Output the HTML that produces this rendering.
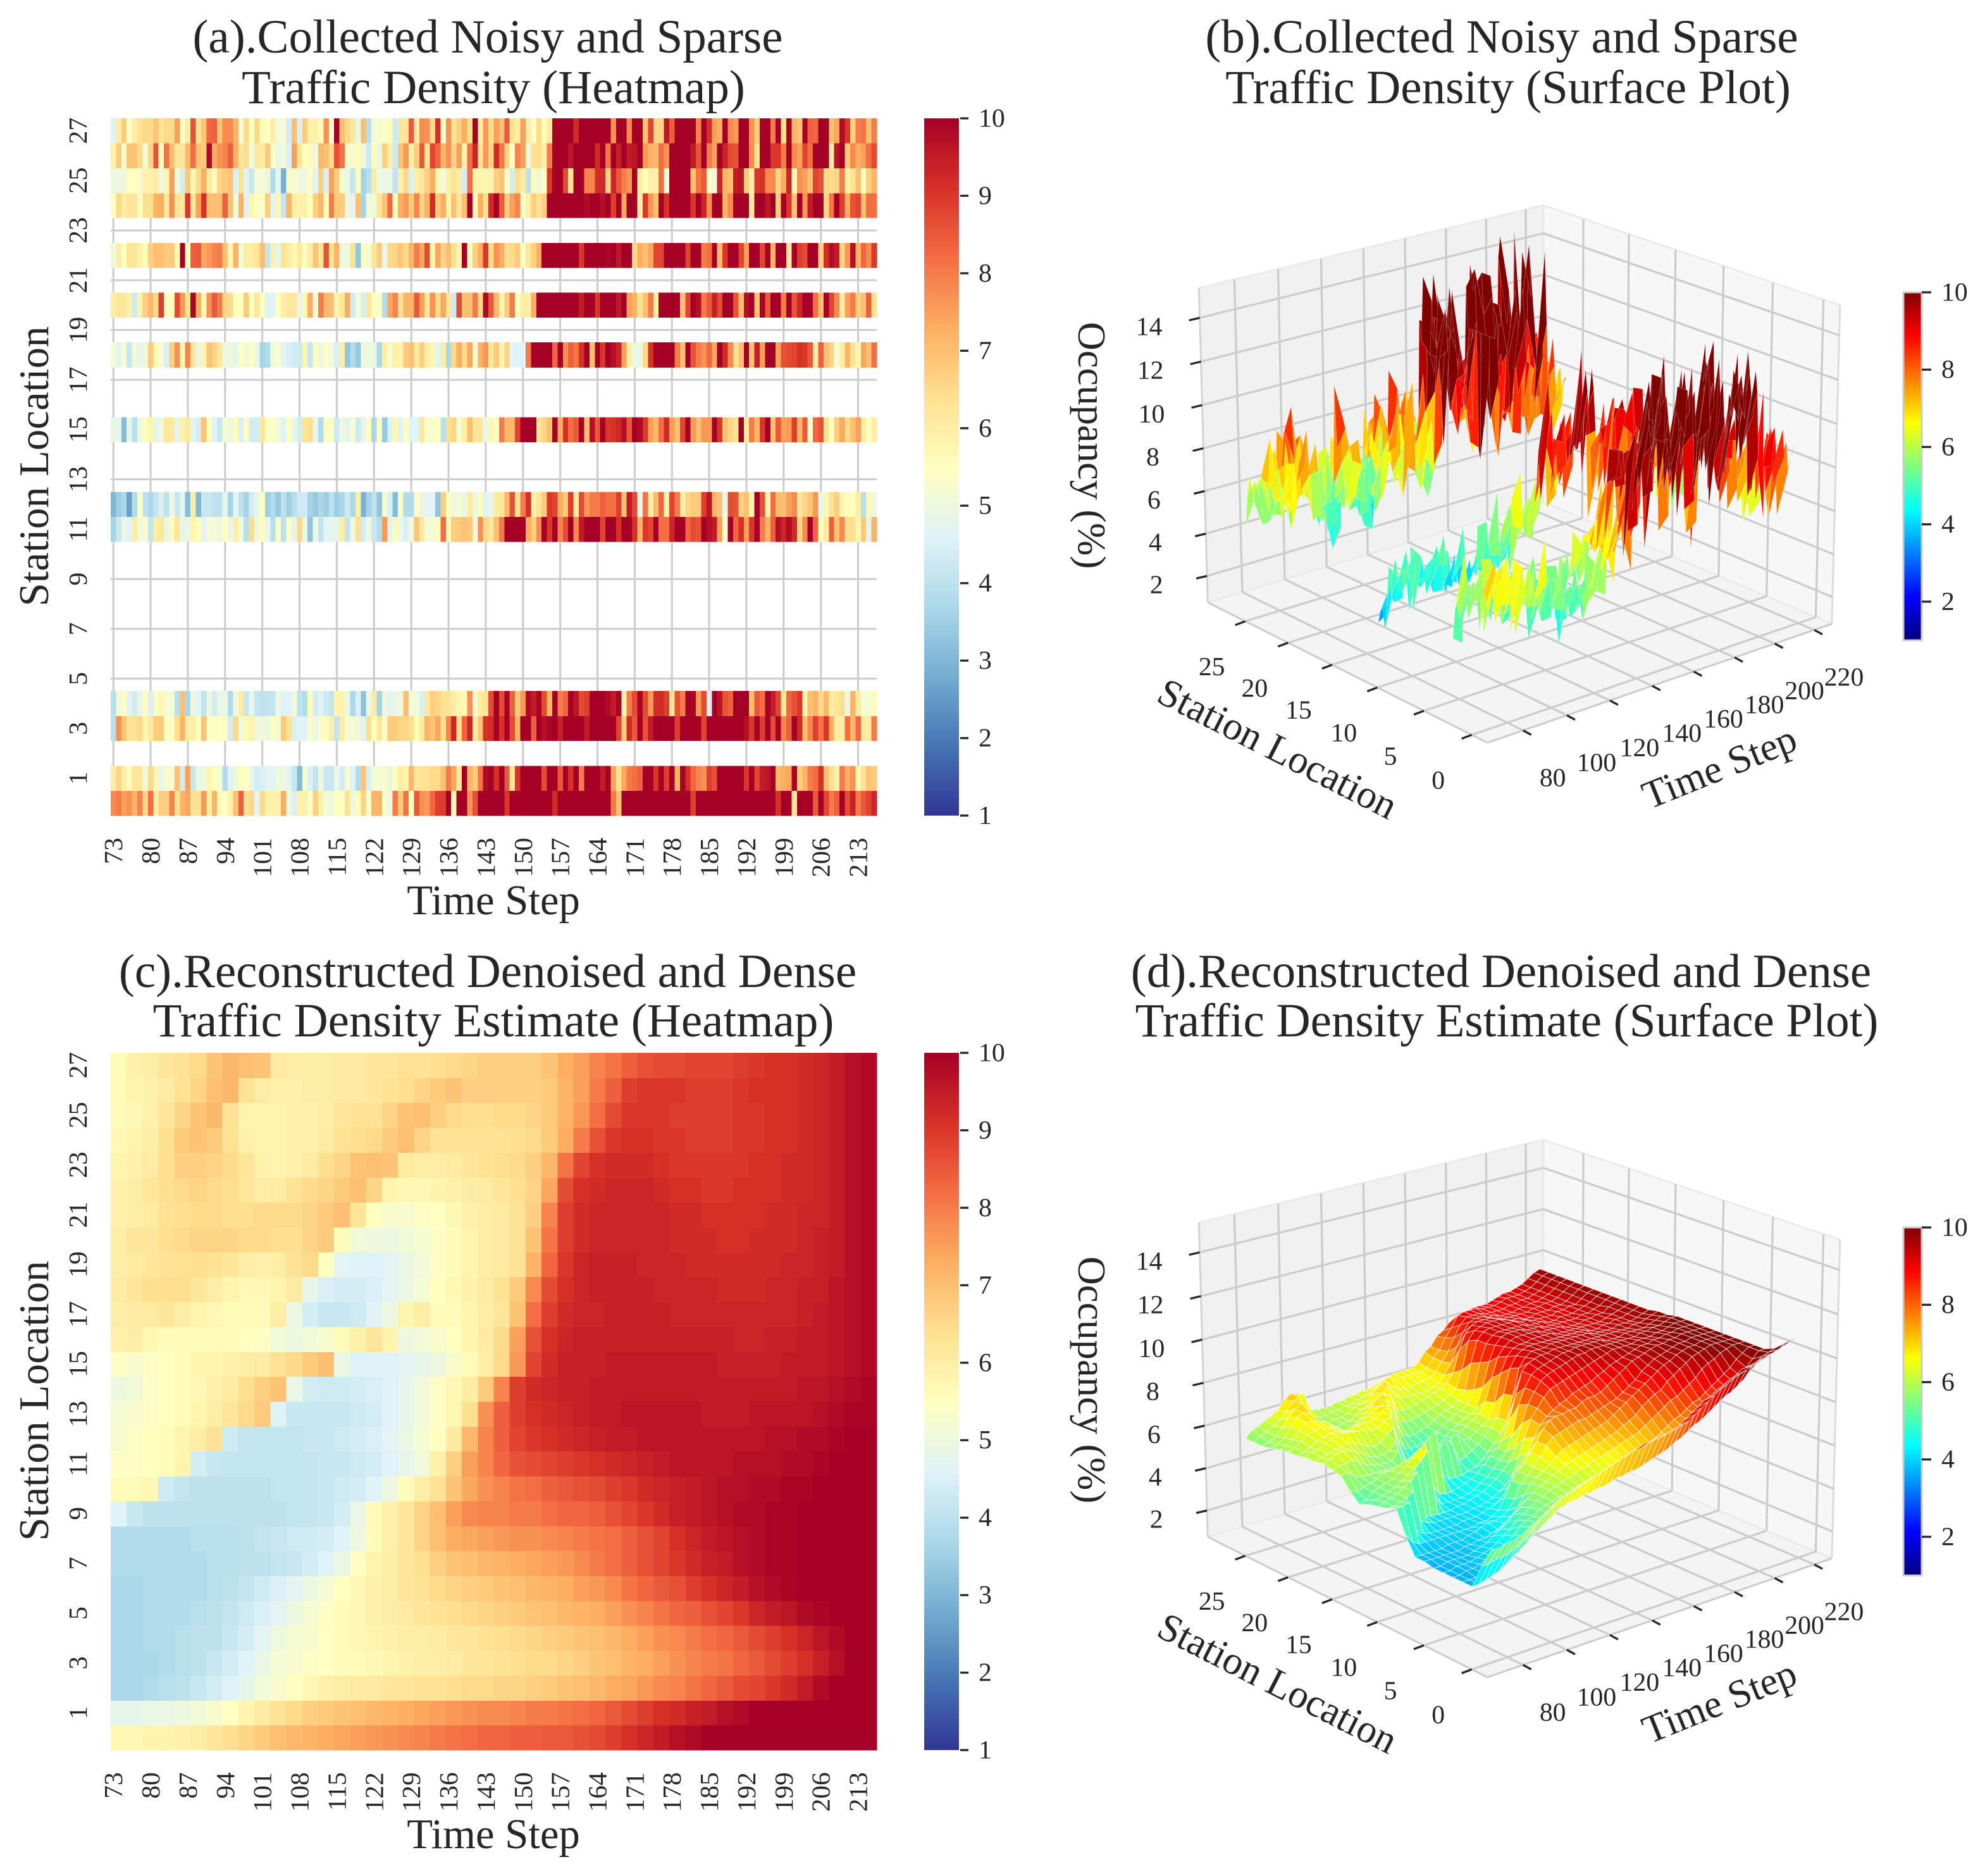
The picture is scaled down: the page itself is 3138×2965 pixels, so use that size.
<!DOCTYPE html>
<html lang="en">
<head>
<meta charset="utf-8">
<title>Traffic Density Reconstruction</title>
<style>
html,body{margin:0;padding:0;background:#fff}
svg{display:block}
text{font-family:"Liberation Serif",serif;fill:#262626}
</style>
</head>
<body>
<svg id="figure" xmlns="http://www.w3.org/2000/svg" width="3138" height="2965" viewBox="0 0 3138 2965">
<defs>
<linearGradient id="rdylbu" x1="0" y1="1" x2="0" y2="0">
<stop offset="0" stop-color="#313695"/><stop offset=".1" stop-color="#4575b4"/><stop offset=".2" stop-color="#74add1"/><stop offset=".3" stop-color="#abd9e9"/><stop offset=".4" stop-color="#e0f3f8"/><stop offset=".5" stop-color="#ffffbf"/><stop offset=".6" stop-color="#fee090"/><stop offset=".7" stop-color="#fdae61"/><stop offset=".8" stop-color="#f46d43"/><stop offset=".9" stop-color="#d73027"/><stop offset="1" stop-color="#a50026"/>
</linearGradient>
<linearGradient id="jetramp" x1="0" y1="1" x2="0" y2="0">
<stop offset="0" stop-color="#000080"/><stop offset=".125" stop-color="#0000ff"/><stop offset=".375" stop-color="#00ffff"/><stop offset=".625" stop-color="#ffff00"/><stop offset=".875" stop-color="#ff0000"/><stop offset="1" stop-color="#800000"/>
</linearGradient>
</defs>
<g id="panel-a">
<text x="771" y="83" font-size="75" text-anchor="middle">(a).Collected Noisy and Sparse</text>
<text x="780" y="163" font-size="75" text-anchor="middle">Traffic Density (Heatmap)</text>
<text x="780" y="1445" font-size="66.7" text-anchor="middle">Time Step</text>
<text x="76" y="737" font-size="66.7" text-anchor="middle" transform="rotate(-90 76 737)">Station Location</text>
</g>
<g id="panel-b">
<text x="2374" y="83" font-size="75" text-anchor="middle">(b).Collected Noisy and Sparse</text>
<text x="2384" y="163" font-size="75" text-anchor="middle">Traffic Density (Surface Plot)</text>
</g>
<g id="panel-c">
<text x="771" y="1560" font-size="75" text-anchor="middle">(c).Reconstructed Denoised and Dense</text>
<text x="780" y="1638" font-size="75" text-anchor="middle">Traffic Density Estimate (Heatmap)</text>
<text x="780" y="2921" font-size="66.7" text-anchor="middle">Time Step</text>
<text x="76" y="2214" font-size="66.7" text-anchor="middle" transform="rotate(-90 76 2214)">Station Location</text>
</g>
<g id="panel-d">
<text x="2373" y="1560" font-size="75" text-anchor="middle">(d).Reconstructed Denoised and Dense</text>
<text x="2382" y="1638" font-size="75" text-anchor="middle">Traffic Density Estimate (Surface Plot)</text>
</g>
</svg>
<script>
/* ---------- axis categories and tick labels ---------- */
const heatTimeTicks = [73,80,87,94,101,108,115,122,129,136,143,150,157,164,171,178,185,192,199,206,213];
const heatStationTicks = [1,3,5,7,9,11,13,15,17,19,21,23,25,27];
const colorbarTicks = [1,2,3,4,5,6,7,8,9,10];
const surfaceColorbarTicks = [2,4,6,8,10];
const surfaceTimeTicks = [80,100,120,140,160,180,200,220];
const surfaceStationTicks = [0,5,10,15,20,25];
const surfaceOccupancyTicks = [2,4,6,8,10,12,14];
const observedStations = [0,1,3,4,11,12,15,18,20,22,24,25,26,27];

/* ---------- observed occupancy: one value per time step 73..216 ---------- */
const observed0 = [7.8,8,7.5,7.7,7.2,7.9,6.5,8.2,6,6.7,6.7,7.9,
6.3,7.2,7.4,6.3,6.3,7.6,6,7.2,5.6,5.5,5.9,7,
8.4,6.4,6.5,4.8,6.5,5.9,5.9,5.9,7.3,5,4.5,5.9,
5.9,5.4,6.7,5.9,5.1,5,5.5,5.5,6.3,5,5.6,6.6,
5.4,7.2,7.2,5.3,5,8,6.8,8.1,5.4,8.5,7.7,7.6,
8.3,8.9,8.9,10.1,5.7,11,12,7.7,8.6,11,12,13,
12,11,9,11,13,12,14,11,13,12,11,9.2,
12,13,11,14,12,11,13,12,14,11,8,7,
10.1,11,13,12,14,11,13,12,11,14,12,13,
11,8.9,12,11,13,12,14,11,13,12,11,14,
13,12,11,13,12,9.1,11,12,6.2,10.1,9.9,10.3,
8.5,10.2,8.8,8,8.4,10,8.7,9.4,8,8.5,8.8,9.3];
const observed1 = [6,6.6,6,5.6,6.2,6.2,5,6.5,5.7,4.8,5.3,5.3,
7,4.4,7.5,4.2,4.9,5,5.8,5.5,5.2,3.8,4.6,5.1,
5.5,5.5,4.8,4.4,4.5,4.7,4.7,5,5,4.7,4.2,3.1,
5.2,4.5,4.1,5,4.2,4.2,4.9,4.4,5.3,4.6,3.8,6.9,
4.5,5.2,5.2,5.2,5,5.5,6,5.8,7.1,6.2,6.3,6.3,
6.5,6.5,7,8,7.4,6.1,10.3,7.2,6.8,8.1,9.8,10.2,
9.1,10.2,8.5,6.2,9,10.2,10,11,12,8.7,11,12,
8.5,10.1,9.1,10.2,8,12,13,11,9.5,10.2,7.4,6.3,
7.4,8,8.2,8.4,10.2,10.3,9,10.3,8.9,10.3,7.2,10.4,
9.1,8.3,7.9,7.7,8.9,8.6,10,12,11,13,12,9,
10.2,8.8,9.5,9.6,10,7.1,7.3,7.4,9.9,6.8,7.2,8,
8.2,9.1,7,6.3,5.9,8,7.3,7.7,5.8,6.3,6.9,6.8];
const observed3 = [3.9,7.7,6.9,6.3,6.3,6.5,5.8,6.1,6.8,6.8,5.5,5.5,
6.4,7.2,6,6,5.5,6.9,5.5,5.4,5.5,5.5,4.4,6.5,
5,5.7,5.9,5,5,5,5.5,5.1,6.8,6.3,4.5,4.6,
4.6,5.3,4.9,5.4,5.4,6,4.1,6,5.2,5.2,5,4.6,
6.4,5.5,6.2,5.3,6.8,6.8,6.6,6.6,6.4,5.6,6.1,7.2,
6.9,7.4,6.4,7.9,9.3,6.4,8.3,9.3,6.1,6.9,9.1,9.2,
10.3,9.1,10.2,8.7,7.2,10,10.2,8.4,10.2,9.7,9.9,10.2,
9.4,11,13,12,11,9.5,12,11,13,14,12,8.8,
6.7,9.2,8.5,10.2,8.6,9.5,11,13,12,11,8.9,11,
12,10,10.3,8.8,12,14,11,13,12,14,11,9.7,
9,10.3,8.9,10.4,8.7,10.3,7.9,8.4,10.2,9.2,7,7.9,
8.9,8.1,9,7.3,6,6,8.2,7.1,8.3,6.1,6.1,8];
const observed4 = [3.9,5.1,5.4,4.7,4.4,4.9,5.5,4.5,5.4,5.7,5.2,5.2,
3.9,7,3.7,5,4.6,4.1,4.9,4.4,4.9,4.9,3.8,5,
6,4.2,4.8,4.1,4,4.1,4.1,5,4.6,4.6,5.1,4,
3.8,5.5,4.4,4.6,4.3,4.1,5.8,5.8,4.9,3.7,4.5,3.2,
4.9,6.1,3.6,5,4.7,4.9,5,7,5.1,5.1,4.5,6.1,
6.7,6.6,6.3,6.3,6,5.8,5.7,7.7,5.3,6.1,6.2,8.7,
10.2,8.7,10.2,8.4,6.8,7.6,9.8,9.5,9.9,8.7,7.2,10.3,
8,8.3,10.3,9.6,8.7,8.9,12,11,13,9.8,9.5,9.9,
5.8,8,8.7,9.9,8.7,7.6,9.2,9.2,8.9,6.2,8.6,8,
10.2,9.9,7.6,8.7,4.5,10.2,9.6,8.6,8.4,12,13,11,
7,8.5,8.2,10.3,9.5,8.8,6.2,8.3,8.6,9,5.8,7,
7.2,6.5,7.1,6,6.2,6.4,4.9,7.2,6.1,5.2,5.2,5.6];
const observed11 = [3.6,4.2,4.9,4.6,6,5.1,5.2,4.1,6,6.2,4.8,5.6,
6.2,4.8,4.9,5.8,5.6,4.7,5.2,5.2,5,5.5,4.9,6,
5.1,3.9,6.4,5,5.6,4.8,3.9,5.4,4,5.4,4.8,6.5,
4.9,3.3,4.9,4.1,4.7,4.7,4.8,6,4.1,5,6.4,4.4,
5,4.2,3.8,7.6,4.7,5.6,4.9,4.5,5.1,6.9,6.1,5.1,
5.2,5.5,8.2,5.6,6.7,6.8,6.9,6.8,5,7.7,6.5,6.2,
7,8,11,12,10.3,10.6,7.3,6.7,7.8,10,9,10.3,
7.9,8.7,10.3,7.8,9.5,11,12,13,8.8,12,11,9.1,
12,11,9.1,7.2,9,8.8,10.3,8.2,8.2,9.3,10.3,10.4,
8.3,8.7,8.6,10.2,9.7,9.5,7.5,5.2,10.4,8.3,9.1,7.5,
9,10.4,8,7.2,8.4,9.7,9.3,9.8,9.2,6.6,7.8,10.3,
8.3,5.5,6.1,8.4,6.9,7.8,6.4,6.4,5.8,6.8,4.7,7.2];
const observed12 = [3,3.5,3.7,2.6,3.8,5.4,4,3.7,4.1,4.5,4,5,
4.2,4.8,3.1,6,3,4.2,4.2,4,4,4.8,3.6,4.7,
4,3.6,4.4,4.8,5.4,3.5,3.8,3.4,4,3.5,3.9,4.3,
4.3,3.6,3.4,3.7,3.5,4,3.5,3.7,4.3,3.7,6,2.9,
3.6,4,3.3,5.2,4.5,3.1,5.4,3.8,3.8,5.4,4.9,4.7,
4.7,3.3,6.7,5.5,5,5.2,4.9,6.1,5,5.6,4.6,4.9,
6.1,6.2,7.1,8.6,6.3,8,9.1,5.9,6.2,6.8,9,8.8,
7.3,6.8,8.9,6.1,8.7,7.6,8,8,8.4,8.2,8.2,8.9,
6.9,9.5,8.7,4.8,8.1,6,7.1,8.3,5.9,8.8,8,6,
6.6,6.8,6.8,8.9,9.6,7.2,6.9,4.9,8.7,8.6,6.7,7,
5.8,10.3,8.6,5.7,8.2,7,7,7.5,7.8,6.2,6.6,6.9,
7.6,4.8,5.7,6.3,6.7,5.7,5.6,5.5,6,3.9,5.7,5];
const observed15 = [4.9,4.8,3.1,4.8,3.9,5,5.5,5.8,4.8,5,6.2,6.1,
4.8,5.9,6.1,4.7,4.4,6.9,5.5,4.6,4.2,5.3,5,5.6,
4.5,5.5,4.4,4.4,6.2,5.4,5.4,5.1,4.6,5.5,4.8,4.4,
6.3,6.4,4.8,3.8,5.4,5.4,4.3,5,4.8,5.2,4.3,4.8,
5.5,3.7,5.5,3.4,4.6,5.7,4.6,5.5,4.6,4.6,6.2,5.3,
5.3,5.5,3.9,6.4,6.6,5.2,6,7,6.2,6.2,4.9,5.7,
5.5,8,7.1,7.1,8.8,11,13,12,6.2,6.6,7,10.2,
7.3,9.1,8.2,8.5,10,7,9.7,8.5,10.2,9,9.1,9.3,
9.7,8.5,10.4,9.8,9,7.5,7.1,8.2,9.2,7.5,7,8.8,
10.2,7.6,7,7.6,7.6,10.2,9,7,6.6,6.3,10.4,6.1,
8,7.1,9,10.3,7,8.5,7.5,7.6,8.9,7.2,8.5,5.3,
8.3,8.6,6.3,5.5,6.7,7.4,6.5,7,7.5,6,5.5,6];
const observed18 = [5.2,4.7,5.2,4.2,5.1,4.9,5,6.8,5.7,5.2,4.5,6.7,
7.7,5.7,7.9,6.2,4.9,5.8,6.9,6.6,6.2,5,5,4.8,
5.4,5.1,5.5,4.9,3.6,3.8,5.1,5.3,4.7,4.5,4.3,4.3,
5.8,4.2,5.4,5,5.4,5.1,4.5,6,3.3,3.8,3.4,5,
5,4.9,3.7,5.9,5.2,5.9,5.9,6.8,7,6.1,6.7,6,
5.7,4.6,6,3.7,6.5,7.3,6.5,7.4,5.2,7.2,7.6,6.2,
6.8,5.8,6.6,4.7,4.6,4.6,8,12,13,11,12,8.3,
10.2,7.7,8.4,8.1,9.1,10.2,7,10.2,9,10.2,9.7,9.3,
7.5,5.9,4.9,4.9,6.5,9.1,13,12,14,11,8,7,
10.2,8.6,8,7.7,8.3,7.4,10.2,9.2,7.8,6.3,7,10.3,
7,9.4,7.5,11,12,7.5,8.6,8.7,8.8,9.1,9,8.5,
6,8.4,7,6.6,5.2,6,7.2,6.3,5.8,7.4,7,8.2];
const observed20 = [6,6.2,6.2,5.9,4.3,5.9,6.7,7.1,6.5,8.9,5.5,5.5,
8.7,7.6,6.3,9.9,7.3,5.7,7.7,8.5,8,6.6,6.5,5.5,
5.5,6.8,5.5,6.2,5.5,4.6,4.6,5.5,6,6.2,6.2,4.9,
5.7,7.3,5.2,8,7.1,7,5.8,6.2,7.3,4.3,5.2,4.4,
6.2,5.5,5.5,3.8,7.4,7.9,6.3,7.2,7.2,8.5,7.5,6.2,
7.7,6.5,7.4,6.2,4.3,8.7,7,7,8,6.5,9.8,8.5,
7.1,5.8,6.8,8,5.4,6,6,7.3,12,11,13,10.6,
14,12,11,10.5,9.5,11,12,9,13,12,11,9.6,
10.2,7.5,7.2,6.3,7,8,6,13,14,12,11,6.9,
8.8,10.3,9.7,8,8.5,9.4,8.7,11,12,8.6,7,9.7,
10.2,6.9,10.3,8.5,12,11,8,10,8.6,9.3,10.6,11,
8.2,7,10.3,8.8,7.8,6,7.5,8,6.7,7,8.4,6.3];
const observed22 = [5,6,5.5,6.2,6.2,5.9,5.6,6.7,7,7,6.8,6.8,
5.7,10.2,5.5,8.4,8.5,7.4,7.6,7.9,8,7,5.7,7.2,
5.1,6,6,6.2,7,4.1,5.9,4.7,6.3,6,5.7,6.1,
5.5,6,6.9,6.3,8.6,6.3,7.2,5,5,6.3,3.3,5.4,
5.2,6.2,6.8,4.9,6.5,6.6,6.9,6.5,7.2,8,7.4,8.7,
5.8,7.4,6.6,7,6.3,5.8,10.3,5.5,6.7,7.3,9,6.5,
7.7,7.3,6.4,6.5,6.8,5.4,6.2,6.7,7.3,11,13,12,
14,11,13,12,9,11,13,12,11,9.9,10.2,9.6,
12,11,6.5,7.3,7,7.4,8.8,8.8,13,12,14,11,
8.8,12,11,8,8.2,10.2,7,9,12,11,8.8,7.5,
12,11,8.8,10.3,7.2,12,11,6.1,10.3,8.9,8.7,12,
11,6.6,9.2,9.8,9.5,6.6,7.6,9.7,7.2,8.3,7.8,9];
const observed24 = [5.4,6.5,6,6.2,6.2,5.5,6.4,6.4,7.2,7.3,6.1,7.7,
6.2,6.1,9,6.2,7.5,9.1,7,7,7,8.4,7,5.1,
7.2,4.6,5.8,5.5,5.4,6.7,4.6,5.7,4.1,7.2,6,5.9,
5.9,5.5,6.7,7.1,5.6,8,6.8,6.8,5,4.6,7,3.6,
5.1,5.1,6.2,6.9,8.3,5.5,7.3,7.6,6.8,7.9,6.6,7.2,
9.2,6.8,7.3,5.8,6.9,6.2,7,10,5.7,7.3,6.3,9.2,
10.2,8.5,6.7,7.5,7.9,5.4,5.9,6.7,6.3,6.7,12,13,
11,14,13,12,11,9.8,11,10.5,9.7,10.2,8.9,10.3,
7.4,11,12,6,9,7.6,7,10.3,9.1,14,13,11,
12,9,10.2,9.3,7.7,10,10.3,7.2,7.8,13,12,11,
6.1,13,11,9.6,10.3,6.8,10.3,9,6.9,10.2,7.6,9.5,
14.5,11,6.6,8.1,10.3,8.9,7.3,8.6,8.8,7,8.2,8.2];
const observed25 = [5,5,5,5.5,5.5,5.3,5.9,5.9,6,5,5.7,7.5,
5.1,4.4,6.8,5.7,6.5,7.3,6.1,5.6,6.6,6.8,6.9,4.5,
6.3,4.7,4.2,5.2,5.2,5,3.8,4.8,2.9,5.3,5.3,5,
5,5.4,4.6,6.7,4.5,7.5,6.8,5.3,4.9,4.1,5.5,3.6,
3.9,6,5,4.9,4.9,4.1,5.9,6.5,4.5,6,6.2,6.7,
7.3,5.7,5.1,5.9,6.3,6,4.4,8.2,5.8,5.8,5.8,5.8,
6.7,6.9,5.4,4.4,6.4,6,4,5.6,5,5.5,9,11,
10.5,8.7,6.3,11,12,7.9,7.9,9.2,9.2,6.6,9.3,8.5,
8,7.6,10.3,6.1,5.5,5.9,5.9,8.2,5.1,14,12,11,
13,6.9,8.1,8.5,5.4,5,9.3,7.2,7,9.5,9.6,6.8,
6,9,9.1,7.8,7.8,6.6,7.3,9.3,5.6,7.7,7.5,7,
8.8,8.6,6.5,6.5,6.6,8,5.9,6.3,7,5.5,6.7,7.2];
const observed26 = [5.9,6.8,5.3,6.9,6.9,6.5,5.2,6.6,8.6,5.5,8.1,7,
6.2,6.2,7.1,8.2,6.9,6.8,9.8,7.3,7.7,7.9,8.4,7.2,
6.2,6.4,5.1,6.1,6.1,6.8,5.4,4.9,5.1,4.5,7.5,6.2,
5.5,5.6,5,7.1,7,6.5,8.6,8.1,5.4,5.3,5.6,5,
4.3,5.6,4.9,6.7,5.9,4.3,6.9,7.6,6,6.8,8.5,6.2,
8.8,8.3,7.2,7.7,6.6,7.5,5.8,8.2,9.3,6.3,7.6,6.6,
9.2,8.1,6.6,5.4,7.9,7.5,5,6.4,6.4,6,8,12,
10.5,13,9.6,11,13,12,11,9.2,10.2,8.1,10,9.4,
10.2,9.5,9.6,10.2,7.6,7.2,7.1,8.2,7.7,13,14,11,
12,9.5,8.6,10.2,8,7.5,10.3,9.3,8.7,8.6,12,11,
7.8,6.3,11,12.5,9,9,8,10.2,7.8,7.5,8.8,8.2,
11,14.5,12,6,9.6,10.2,6.8,7.8,7.3,7.5,8.2,8.7];
const observed27 = [4.6,6,6.8,5.4,6,6.3,6.5,6.5,6.9,6.3,6.5,6.5,
7.5,5.4,6,8.6,6.3,6.9,8.3,8.4,6.9,7.8,7.8,7.2,
5.2,6.5,5.5,6.5,5.6,5.5,6,5.1,5.2,4.4,7,4.5,
6.8,5.9,5.9,5.6,7.7,5.3,10,7,6.5,6.2,4.8,7,
3.9,5.2,5.2,5.4,5.6,4.3,6.2,6.2,8.5,6,7.8,7.7,
6.5,9.1,5.4,7.7,6.3,6.7,7.3,6.4,10,6,7.6,6.5,
7.5,7,8.5,6.3,6,7.5,6,5.4,6.5,5.6,6.1,12,
11,14,11,9.2,10.5,12,14,11,13,10.5,7.7,11,
12,7.8,11,13,7,8.8,6.6,6.6,9.6,8.4,13,11,
14,10.5,7.9,10.5,9.1,7.5,7.3,10.2,7.8,7.6,12,11,
7.7,6.8,14,15,8,10.2,6.4,10.2,7.2,6.9,15.1,8.4,
8.3,11,14,7,7.4,9.8,9,6.7,8,8.1,7,8];
const observedSeries = [observed0,observed1,observed3,observed4,observed11,observed12,observed15,observed18,observed20,observed22,observed24,observed25,observed26,observed27];

/* ---------- reconstructed occupancy: 28 stations, one value per 3 time steps ---------- */
const recon0 = [5.7,5.7,5.8,5.8,5.9,6,6.2,6.4,6.6,6.8,7,7.1,7.2,7.3,7.4,7.5,7.6,7.7,7.8,7.9,8,8.1,8.2,8.3,8.3,8.4,8.4,8.5,8.5,8.6,8.7,8.9,9.1,9.3,9.5,9.7,9.8,10,10.1,10.2,10.3,10.4,10.5,10.6,10.7,10.8,10.9,11];
const recon1 = [4.8,4.8,4.9,4.9,5,5.1,5.3,5.5,5.8,6.1,6.3,6.5,6.7,6.8,6.9,7,7.1,7.2,7.3,7.4,7.5,7.6,7.7,7.8,7.8,7.9,8,8,8.1,8.2,8.3,8.5,8.7,8.9,9.1,9.2,9.4,9.5,9.7,9.8,10,10,10.1,10.2,10.2,10.3,10.4,10.6];
const recon2 = [3.7,3.7,3.8,3.9,4,4.2,4.4,4.6,4.8,5.1,5.3,5.5,5.7,5.9,6,6.1,6.1,6.2,6.2,6.3,6.3,6.4,6.5,6.5,6.6,6.6,6.7,6.8,6.9,7,7.1,7.3,7.4,7.6,7.8,7.9,8.1,8.3,8.5,8.7,8.8,9,9.2,9.5,9.8,10,10.1,10.2];
const recon3 = [3.7,3.7,3.7,3.8,3.9,4,4.2,4.4,4.6,4.9,5.2,5.3,5.4,5.5,5.6,5.6,5.7,5.8,5.9,6,6,6.1,6.2,6.2,6.3,6.4,6.5,6.5,6.6,6.7,6.9,7,7.2,7.3,7.5,7.7,7.9,8,8.1,8.3,8.5,8.7,8.9,9.1,9.4,9.7,10,10];
const recon4 = [3.7,3.7,3.8,3.8,3.9,4,4,4.2,4.4,4.7,5,5.2,5.3,5.5,5.6,5.7,5.8,5.9,6,6,6.1,6.2,6.2,6.3,6.4,6.5,6.6,6.7,6.8,6.9,7,7.1,7.3,7.5,7.7,7.8,8,8.2,8.3,8.5,8.7,8.9,9.1,9.3,9.6,9.8,10,10];
const recon5 = [3.7,3.7,3.8,3.8,3.8,3.9,4,4.1,4.3,4.5,4.7,5,5.2,5.4,5.6,5.7,5.9,6,6.1,6.2,6.3,6.4,6.5,6.6,6.7,6.8,6.9,7,7.1,7.2,7.3,7.5,7.7,7.9,8.1,8.3,8.4,8.6,8.8,9,9.3,9.5,9.6,9.8,9.9,10,10,10];
const recon6 = [3.7,3.7,3.8,3.8,3.8,3.8,3.9,4,4.1,4.3,4.5,4.7,5,5.2,5.5,5.7,5.9,6,6.2,6.3,6.5,6.6,6.7,6.8,6.9,7,7.1,7.2,7.3,7.5,7.6,7.8,8.1,8.3,8.5,8.6,8.9,9.1,9.3,9.5,9.7,9.8,9.9,10,10,10,10,10];
const recon7 = [3.8,3.8,3.8,3.8,3.8,3.8,3.9,3.9,4,4,4.1,4.2,4.4,4.6,4.9,5.4,5.8,6,6.2,6.4,6.7,6.9,7,7.1,7.2,7.3,7.4,7.5,7.6,7.8,8,8.2,8.4,8.6,8.8,9,9.2,9.4,9.5,9.7,9.8,9.9,9.9,10,10,10,10,10];
const recon8 = [3.8,3.8,3.8,3.8,3.8,3.9,3.9,3.9,4,4.1,4.2,4.3,4.3,4.4,4.6,5,5.6,5.9,6.2,6.6,7,7.3,7.4,7.5,7.6,7.7,7.7,7.8,7.9,8,8.1,8.2,8.4,8.6,8.8,9.1,9.3,9.5,9.6,9.7,9.8,9.9,9.9,10,10,10,10,10];
const recon9 = [4.6,4.2,4,4,4,4,4,4,4,4,4,4.1,4.1,4.2,4.4,4.9,5.6,5.9,6.2,6.6,7,7.5,7.8,7.9,7.9,8,8,8.2,8.3,8.3,8.4,8.6,8.8,9,9.2,9.4,9.5,9.6,9.7,9.8,9.8,9.9,9.9,10,10,10,10,10];
const recon10 = [5.6,5.6,5.7,4.3,4.1,4,4,4,4,4,4.1,4.1,4.1,4.2,4.3,4.4,4.6,5,5.6,6,6.3,6.9,7.4,7.7,7.9,8.1,8.2,8.4,8.5,8.6,8.7,8.9,9,9.2,9.3,9.4,9.5,9.6,9.7,9.7,9.8,9.8,9.9,9.9,10,10,10,10];
const recon11 = [5.4,5.4,5.5,5.6,5.8,4.4,4.2,4.1,4.1,4.1,4.1,4.1,4.1,4.2,4.2,4.3,4.4,4.6,4.8,5.1,5.9,6.7,7.5,7.9,8.3,8.6,8.7,8.8,8.9,9,9.1,9.2,9.3,9.4,9.5,9.6,9.6,9.6,9.6,9.7,9.7,9.7,9.8,9.8,9.9,10,10,10];
const recon12 = [5.3,5.4,5.5,5.6,5.8,6,6.3,4.3,4.1,4.1,4.1,4.1,4.2,4.2,4.3,4.4,4.5,4.7,4.9,5.2,5.5,6.1,7.1,7.9,8.4,8.8,9,9.1,9.2,9.3,9.4,9.5,9.5,9.6,9.6,9.6,9.6,9.6,9.6,9.6,9.6,9.7,9.7,9.8,9.8,9.9,10,10];
const recon13 = [5.2,5.3,5.4,5.5,5.6,5.8,6,6.2,6.5,6.8,4.6,4.2,4.2,4.2,4.2,4.3,4.4,4.6,4.8,5.1,5.4,5.7,6.4,7.7,8.4,8.9,9.1,9.2,9.3,9.4,9.5,9.5,9.6,9.6,9.6,9.6,9.6,9.5,9.5,9.5,9.6,9.6,9.6,9.6,9.7,9.8,9.9,9.9];
const recon14 = [5,5.1,5.4,5.5,5.6,5.7,5.9,6.1,6.4,6.7,6.9,4.9,4.4,4.3,4.3,4.4,4.5,4.6,4.8,5.1,5.4,5.7,6,6.8,7.9,8.9,9.2,9.3,9.4,9.4,9.5,9.5,9.5,9.5,9.5,9.5,9.5,9.5,9.5,9.5,9.5,9.5,9.5,9.6,9.6,9.7,9.8,9.9];
const recon15 = [5.4,5.3,5.4,5.5,5.6,5.8,5.8,5.9,6,6.1,6.3,6.5,6.8,7,4.9,4.6,4.6,4.6,4.7,4.8,5,5.3,5.6,6,6.5,7.6,8.8,9.2,9.4,9.4,9.4,9.5,9.5,9.5,9.5,9.5,9.5,9.5,9.4,9.4,9.4,9.4,9.5,9.5,9.5,9.6,9.7,9.8];
const recon16 = [5.9,6,5.7,5.6,5.6,5.6,5.6,5.6,5.5,5.4,5.1,5,5.1,5.3,5.6,5.9,6.2,5.8,5,5.1,5.3,5.5,5.8,6.1,6.5,7.5,8.6,9.1,9.3,9.4,9.4,9.4,9.4,9.4,9.4,9.4,9.4,9.4,9.4,9.3,9.3,9.4,9.4,9.5,9.5,9.6,9.7,9.8];
const recon17 = [6,6.1,6.1,6.2,6,5.8,5.7,5.6,5.6,5.6,6,4.9,4.4,4.2,4.2,4.3,4.6,5,5.8,6,5.6,5.6,5.8,6,6.2,6.9,8.2,8.9,9.2,9.3,9.3,9.4,9.4,9.4,9.4,9.3,9.3,9.3,9.3,9.3,9.3,9.3,9.3,9.4,9.5,9.6,9.7,9.8];
const recon18 = [6.1,6.2,6.4,6.4,6.4,6.2,6,5.8,5.7,5.7,5.8,6.1,4.8,4.5,4.4,4.4,4.5,4.7,4.9,5.2,5.5,5.7,5.9,6.1,6.3,6.8,7.8,8.7,9.1,9.3,9.4,9.4,9.4,9.4,9.3,9.3,9.3,9.3,9.2,9.2,9.2,9.3,9.3,9.4,9.4,9.6,9.7,9.8];
const recon19 = [6,6.1,6.2,6.3,6.3,6.4,6.3,6.2,6,5.9,6,6.3,6.5,5.5,4.7,4.6,4.6,4.7,4.9,5.1,5.4,5.6,5.8,6,6.1,6.3,7.2,8.3,9,9.3,9.4,9.4,9.4,9.3,9.3,9.3,9.2,9.2,9.2,9.2,9.2,9.2,9.3,9.3,9.4,9.5,9.7,9.8];
const recon20 = [6,6.2,6.2,6.4,6.5,6.6,6.6,6.6,6.5,6.5,6.4,6.4,6.6,6.8,5.6,5.1,5,5,5.1,5.2,5.4,5.6,5.8,6,6.1,6.3,6.9,8.1,8.9,9.2,9.3,9.3,9.3,9.3,9.3,9.2,9.2,9.2,9.1,9.1,9.2,9.2,9.2,9.3,9.4,9.5,9.7,9.8];
const recon21 = [5.9,6,6.1,6.3,6.4,6.5,6.5,6.4,6.4,6.5,6.5,6.5,6.6,6.8,7,6.2,5.5,5.3,5.3,5.4,5.5,5.7,5.9,6,6.1,6.3,6.7,7.9,8.9,9.2,9.3,9.3,9.3,9.3,9.3,9.2,9.2,9.1,9.1,9.1,9.1,9.2,9.2,9.3,9.3,9.5,9.7,9.8];
const recon22 = [5.9,6,6.2,6.4,6.5,6.6,6.5,6.4,6.2,6,6.1,6.3,6.5,6.6,6.8,7,6.6,5.8,5.7,5.7,5.8,5.9,6,6.1,6.2,6.4,6.6,7.4,8.7,9.1,9.2,9.3,9.3,9.3,9.2,9.1,9.1,9,9,9.1,9.1,9.1,9.2,9.2,9.3,9.5,9.7,9.8];
const recon23 = [5.8,5.9,6.1,6.4,6.7,6.7,6.6,6.5,6.2,5.9,5.8,5.9,6.1,6.4,6.6,6.9,7,6.9,6.1,6,6,6.1,6.2,6.3,6.4,6.5,6.7,7.1,8.1,8.8,9.1,9.2,9.2,9.2,9.1,9,9,9,9,9,9.1,9.1,9.2,9.2,9.3,9.5,9.7,9.8];
const recon24 = [5.7,5.8,6,6.4,6.8,6.9,6.8,6.3,5.9,5.8,5.8,5.9,5.9,6.1,6.3,6.4,6.5,6.8,7,6.6,6.3,6.3,6.3,6.3,6.3,6.4,6.5,6.8,7.3,8,8.6,9,9.1,9.1,9,9,8.9,8.9,8.9,9,9,9.1,9.1,9.2,9.3,9.5,9.7,9.8];
const recon25 = [5.6,5.7,5.9,6.2,6.6,6.9,7.1,6.3,5.8,5.8,5.8,5.9,5.9,6,6.2,6.3,6.3,6.6,6.9,7,6.7,6.5,6.4,6.4,6.5,6.5,6.6,6.8,7.2,7.6,8.2,8.7,9,9,9,8.9,8.9,8.9,8.9,9,9,9.1,9.1,9.2,9.3,9.5,9.7,9.8];
const recon26 = [5.6,5.8,5.9,6.1,6.3,6.6,7,7.1,6.3,6,5.9,5.9,6,6,6.1,6.1,6.2,6.3,6.4,6.6,6.8,6.9,6.7,6.7,6.7,6.7,6.7,6.8,7.2,7.5,8,8.4,8.9,9,9,9,8.9,8.9,8.9,9,9.1,9.1,9.1,9.2,9.3,9.5,9.7,9.8];
const recon27 = [5.6,5.9,6,6.2,6.3,6.5,6.9,7.1,7,6.9,6.1,6,6,6,6.1,6.1,6.2,6.2,6.3,6.3,6.4,6.5,6.6,6.7,6.7,6.7,6.7,6.9,7.3,7.5,7.9,8.1,8.4,8.6,8.7,8.7,8.8,8.8,8.8,8.9,9,9.1,9.1,9.2,9.3,9.5,9.7,9.8];
const reconSeries = [recon0,recon1,recon2,recon3,recon4,recon5,recon6,recon7,recon8,recon9,recon10,recon11,recon12,recon13,recon14,recon15,recon16,recon17,recon18,recon19,recon20,recon21,recon22,recon23,recon24,recon25,recon26,recon27];

/* ---------- helpers ---------- */
const NS = 'http://www.w3.org/2000/svg';
function svgEl(tag, attrs, parent) {
  const el = document.createElementNS(NS, tag);
  for (const k in attrs) el.setAttribute(k, attrs[k]);
  parent.appendChild(el);
  return el;
}
const clamp01 = v => Math.max(0, Math.min(1, v));
const RDYLBU = [[49,54,149],[69,117,180],[116,173,209],[171,217,233],[224,243,248],[255,255,191],[254,224,144],[253,174,97],[244,109,67],[215,48,39],[165,0,38]];
function heatColor(v) {
  const t = clamp01((v - 1) / 9) * 10;
  const i = Math.min(9, Math.floor(t));
  const f = t - i;
  const c = RDYLBU[i].map((a, n) => Math.round(a + (RDYLBU[i + 1][n] - a) * f));
  return 'rgb(' + c.join(',') + ')';
}
function jetColor(v) {
  const t = clamp01((v - 1) / 9);
  const r = clamp01(Math.min(4 * t - 1.5, -4 * t + 4.5));
  const g = clamp01(Math.min(4 * t - 0.5, -4 * t + 3.5));
  const b = clamp01(Math.min(4 * t + 0.5, -4 * t + 2.5));
  return 'rgb(' + Math.round(r * 255) + ',' + Math.round(g * 255) + ',' + Math.round(b * 255) + ')';
}

/* ---------- heatmap axes ---------- */
const HEAT_LEFT = 175, HEAT_WIDTH = 1211, HEAT_STEPS = 144, HEAT_ROWS = 28, HEAT_HEIGHT = 1102;
const heatX = t => HEAT_LEFT + (t - 73) * HEAT_WIDTH / HEAT_STEPS;
const heatY = (top, s) => top + (HEAT_ROWS - 1 - s) * HEAT_HEIGHT / HEAT_ROWS;
const rowH = HEAT_HEIGHT / HEAT_ROWS;

function heatFrame(panel, top) {
  heatTimeTicks.forEach(t => {
    const x = heatX(t + 0.5);
    const label = svgEl('text', {x: x + 14, y: top + HEAT_HEIGHT + 35, 'font-size': 41.7, 'text-anchor': 'end', transform: 'rotate(-90 ' + (x + 14) + ' ' + (top + HEAT_HEIGHT + 35) + ')'}, panel);
    label.textContent = t;
    
    
  });
  heatStationTicks.forEach(s => {
    const y = heatY(top, s) + rowH / 2;
    const label = svgEl('text', {x: 137, y: y, 'font-size': 41.7, 'text-anchor': 'middle', transform: 'rotate(-90 137 ' + y + ')'}, panel);
    label.textContent = s;
    
    
  });
  const barY = v => top + HEAT_HEIGHT - (v - 1) / 9 * HEAT_HEIGHT;
  const bar = svgEl('rect', {x: 1461, y: top, width: 55, height: HEAT_HEIGHT, fill: 'url(#rdylbu)'}, panel);
  
  
  colorbarTicks.forEach(v => {
    const y = barY(v);
    const tick = svgEl('line', {x1: 1518, x2: 1531, y1: y, y2: y, stroke: '#262626', 'stroke-width': 3.3}, panel);
    
    
    const label = svgEl('text', {x: 1547, y: y, 'font-size': 41.7, 'dominant-baseline': 'central'}, panel);
    label.textContent = v;
    
    
  });
}

/* panel a */
(function () {
  const panel = document.getElementById('panel-a');
  const top = 187;
  heatTimeTicks.forEach(t => {
    const line = svgEl('line', {x1: heatX(t + 0.5), x2: heatX(t + 0.5), y1: top, y2: top + HEAT_HEIGHT, stroke: '#cccccc', 'stroke-width': 3}, panel);
    
    
  });
  heatStationTicks.forEach(s => {
    const y = heatY(top, s) + rowH / 2;
    const line = svgEl('line', {x1: HEAT_LEFT, x2: HEAT_LEFT + HEAT_WIDTH, y1: y, y2: y, stroke: '#cccccc', 'stroke-width': 3}, panel);
    
    
  });
  observedStations.forEach((s, k) => {
    observedSeries[k].forEach((v, i) => {
      const x0 = heatX(73 + i), x1 = heatX(74 + i);
      const cell = svgEl('rect', {x: x0, y: heatY(top, s), width: x1 - x0 + 0.5, height: rowH + 0.3, fill: heatColor(v), 'shape-rendering': 'crispEdges'}, panel);
      
      
    });
  });
  heatFrame(panel, top);
})();

/* panel c */
(function () {
  const panel = document.getElementById('panel-c');
  const top = 1664;
  reconSeries.forEach((row, s) => {
    row.forEach((v, i) => {
      const x0 = heatX(73 + 3 * i), x1 = heatX(76 + 3 * i);
      const cell = svgEl('rect', {x: x0, y: heatY(top, s), width: x1 - x0 + 0.5, height: rowH + 0.5, fill: heatColor(v), 'shape-rendering': 'crispEdges'}, panel);
      
      
    });
  });
  heatFrame(panel, top);
})();

/* ---------- 3D axes: projective camera fitted to the visible box corners ---------- */
const T_MIN = 64, T_MAX = 229, S_MIN = -1.6, S_MAX = 29.5, Z_MIN = 0.74, Z_MAX = 15.35;
const boxCorners = [
  [0,0,0,2352,1172],[1,0,0,2895,989],[0,1,0,1909,954],[1,1,0,2440,790],
  [0,1,1,1895,455],[1,1,1,2440,326],[1,0,1,2909,481]
];
function solveCamera(pts) {
  const n = 11;
  const M = Array.from({length: n}, () => new Array(n + 1).fill(0));
  const addRow = (a, b) => {
    for (let i = 0; i < n; i++) {
      for (let j = 0; j < n; j++) M[i][j] += a[i] * a[j];
      M[i][n] += a[i] * b;
    }
  };
  pts.forEach(p => {
    const [X, Y, Z, x, y] = p;
    addRow([X, Y, Z, 1, 0, 0, 0, 0, -x * X, -x * Y, -x * Z], x);
    addRow([0, 0, 0, 0, X, Y, Z, 1, -y * X, -y * Y, -y * Z], y);
  });
  for (let c = 0; c < n; c++) {
    let piv = c;
    for (let r = c + 1; r < n; r++) if (Math.abs(M[r][c]) > Math.abs(M[piv][c])) piv = r;
    const tmp = M[c]; M[c] = M[piv]; M[piv] = tmp;
    for (let r = 0; r < n; r++) {
      if (r === c) continue;
      const f = M[r][c] / M[c][c];
      for (let k = c; k <= n; k++) M[r][k] -= f * M[c][k];
    }
  }
  return M.map((row, i) => row[n] / row[i]);
}
const CAM = solveCamera(boxCorners);
const uOf = t => (t - T_MIN) / (T_MAX - T_MIN);
const vOf = s => (s - S_MIN) / (S_MAX - S_MIN);
const wOf = z => (z - Z_MIN) / (Z_MAX - Z_MIN);
function project(u, v, w, dy) {
  const d = CAM[8] * u + CAM[9] * v + CAM[10] * w + 1;
  return [(CAM[0] * u + CAM[1] * v + CAM[2] * w + CAM[3]) / d, (CAM[4] * u + CAM[5] * v + CAM[6] * w + CAM[7]) / d + dy];
}
const pts = list => list.map(p => p[0].toFixed(1) + ',' + p[1].toFixed(1)).join(' ');

function box3d(panel, dy, barTop) {
  const P = (u, v, w) => project(u, v, w, dy);
  const panes = [
    ['left-wall-pane', '#f1f1f1', [P(0,1,0), P(1,1,0), P(1,1,1), P(0,1,1)]],
    ['right-wall-pane', '#f7f7f7', [P(1,0,0), P(1,1,0), P(1,1,1), P(1,0,1)]],
    ['floor-pane', '#f4f4f4', [P(0,0,0), P(1,0,0), P(1,1,0), P(0,1,0)]]
  ];
  panes.forEach(p => {
    const pane = svgEl('polygon', {points: pts(p[2]), fill: p[1]}, panel);
    
    
  });
  const drawLine = (a, b, color, width) => {
    const line = svgEl('line', {x1: a[0], y1: a[1], x2: b[0], y2: b[1], stroke: color, 'stroke-width': width}, panel);
    
    
  };
  /* pane edges */
  drawLine(P(0,1,1), P(1,1,1), '#ebebeb', 3);
  drawLine(P(1,1,1), P(1,0,1), '#ebebeb', 3);
  drawLine(P(1,1,0), P(1,1,1), '#e8e8e8', 3);
  drawLine(P(0,1,0), P(1,1,0), '#ebebeb', 3);
  drawLine(P(1,1,0), P(1,0,0), '#ebebeb', 3);
  drawLine(P(0,1,0), P(0,1,1), '#d4d4d4', 3);
  drawLine(P(1,0,0), P(1,0,1), '#dcdcdc', 3);
  drawLine(P(0,1,0), P(0,0,0), '#cccccc', 3);
  drawLine(P(0,0,0), P(1,0,0), '#cccccc', 3);
  /* grid lines and ticks */
  surfaceTimeTicks.forEach(t => {
    const u = uOf(t);
    drawLine(P(u,0,0), P(u,1,0), '#cccccc', 3.3);
    drawLine(P(u,1,0), P(u,1,1), '#cccccc', 3.3);
    const e = P(u,0,0);
    drawLine(e, [e[0] + 13, e[1] + 7], '#262626', 3.3);
    const label = svgEl('text', {x: e[0] + 47, y: e[1] + 75, 'font-size': 41.7, 'text-anchor': 'middle', 'dominant-baseline': 'central'}, panel);
    label.textContent = t;
    
    
  });
  surfaceStationTicks.forEach(s => {
    const v = vOf(s);
    drawLine(P(0,v,0), P(1,v,0), '#cccccc', 3.3);
    drawLine(P(1,v,0), P(1,v,1), '#cccccc', 3.3);
    const e = P(0,v,0);
    drawLine(e, [e[0] - 16, e[1] + 6], '#262626', 3.3);
    const label = svgEl('text', {x: e[0] - 53, y: e[1] + 72, 'font-size': 41.7, 'text-anchor': 'middle', 'dominant-baseline': 'central'}, panel);
    label.textContent = s;
    
    
  });
  surfaceOccupancyTicks.forEach(z => {
    const w = wOf(z);
    drawLine(P(0,1,w), P(1,1,w), '#cccccc', 3.3);
    drawLine(P(1,1,w), P(1,0,w), '#cccccc', 3.3);
    const e = P(0,1,w);
    drawLine(e, [e[0] - 17, e[1] + 4], '#262626', 3.3);
    const label = svgEl('text', {x: e[0] - 80, y: e[1] + 14, 'font-size': 41.7, 'text-anchor': 'middle', 'dominant-baseline': 'central'}, panel);
    label.textContent = z;
    
    
  });
  /* colorbar */
  const barH = 550;
  const bar = svgEl('rect', {x: 3009, y: barTop, width: 29, height: barH, fill: 'url(#jetramp)', stroke: '#cccccc', 'stroke-width': 3}, panel);
  
  
  surfaceColorbarTicks.forEach(v => {
    const y = barTop + barH - (v - 1) / 9 * barH;
    const tick = svgEl('line', {x1: 3038, x2: 3053, y1: y, y2: y, stroke: '#262626', 'stroke-width': 3.3}, panel);
    
    
    const label = svgEl('text', {x: 3069, y: y, 'font-size': 41.7, 'dominant-baseline': 'central'}, panel);
    label.textContent = v;
    
    
  });
}

function axisTitles3d(panel, dy) {
  const add = (x, y, angle, str, name) => {
    const t = svgEl('text', {x: x, y: y + dy, 'font-size': 62.5, 'text-anchor': 'middle', 'dominant-baseline': 'central', transform: 'rotate(' + angle + ' ' + x + ' ' + (y + dy) + ')'}, panel);
    t.textContent = str;
    
    
  };
  add(2718, 1212, -22, 'Time Step', 'surface-time-axis-title');
  add(2020, 1183, 27, 'Station Location', 'surface-station-axis-title');
  add(1726, 704, 90, 'Occupancy (%)', 'surface-occupancy-axis-title');
}

function drawQuads(panel, quads, dy, name, edgeOpacity, edgeWidth) {
  quads.sort((a, b) => b.depth - a.depth);
  quads.forEach(q => {
    const poly = svgEl('polygon', {
      points: pts(q.corners.map(c => project(c[0], c[1], c[2], dy))),
      fill: jetColor(q.value), stroke: '#ffffff', 'stroke-opacity': edgeOpacity, 'stroke-width': edgeWidth, 'stroke-linejoin': 'round'
    }, panel);
    
    
  });
}
function makeQuad(t0, t1, s0, s1, z00, z10, z01, z11) {
  const corners = [
    [uOf(t0), vOf(s0), wOf(z00)], [uOf(t1), vOf(s0), wOf(z10)],
    [uOf(t1), vOf(s1), wOf(z11)], [uOf(t0), vOf(s1), wOf(z01)]
  ];
  const avg = k => corners.reduce((a, c) => a + c[k], 0) / 4;
  return {corners: corners, value: (z00 + z10 + z01 + z11) / 4, depth: avg(0) + avg(1) - 0.6 * avg(2)};
}

/* panel b */
(function () {
  const panel = document.getElementById('panel-b');
  box3d(panel, 0, 462);
  const quads = [];
  for (let k = 0; k < observedStations.length - 1; k++) {
    if (observedStations[k + 1] !== observedStations[k] + 1) continue;
    const a = observedSeries[k], b = observedSeries[k + 1];
    for (let i = 0; i + 1 < a.length; i++) {
      quads.push(makeQuad(73 + i, 74 + i, observedStations[k], observedStations[k + 1], a[i], a[i + 1], b[i], b[i + 1]));
    }
  }
  drawQuads(panel, quads, 0, 'observed-surface-face', 0.3, 0.7);
  axisTitles3d(panel, 0);
})();

/* panel d */
(function () {
  const panel = document.getElementById('panel-d');
  const dy = 1477;
  box3d(panel, dy, 1940);
  const quads = [];
  const colT = i => 73 + i * 143 / 47;
  for (let s = 0; s < reconSeries.length - 1; s++) {
    const a = reconSeries[s], b = reconSeries[s + 1];
    for (let i = 0; i < a.length - 1; i++) {
      quads.push(makeQuad(colT(i), colT(i + 1), s, s + 1, a[i], a[i + 1], b[i], b[i + 1]));
    }
  }
  drawQuads(panel, quads, dy, 'reconstructed-surface-face', 0.6, 1.1);
  axisTitles3d(panel, dy);
})();
</script>
</body>
</html>
